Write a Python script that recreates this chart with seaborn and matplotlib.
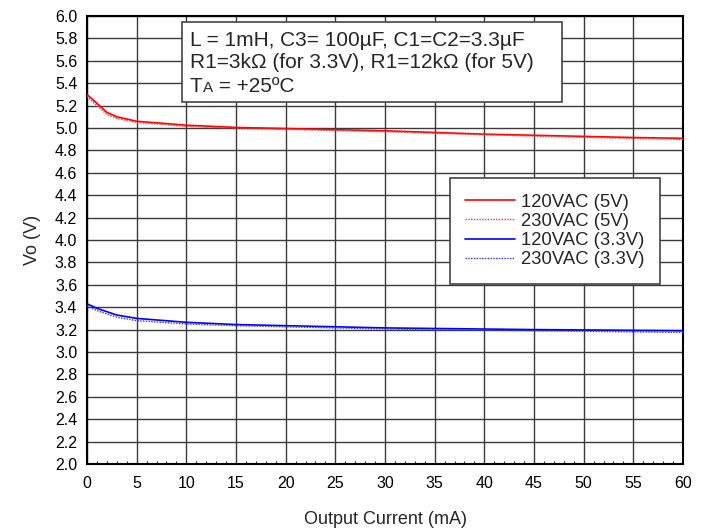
import numpy as np
import pandas as pd
import matplotlib
matplotlib.use("Agg")
import matplotlib.pyplot as plt
import seaborn as sns
from matplotlib.patches import Rectangle
from matplotlib.ticker import MultipleLocator

# ---- data ----
current_ma = [0, 1, 2, 3, 5, 10, 15, 20, 25, 30, 35, 40, 45, 50, 55, 60]
vo_120_5v = [5.30, 5.22, 5.14, 5.10, 5.06, 5.025, 5.005, 4.995, 4.985, 4.975, 4.96, 4.945, 4.935, 4.925, 4.915, 4.908]
vo_230_5v = [5.28, 5.20, 5.12, 5.085, 5.05, 5.015, 4.998, 4.988, 4.978, 4.967, 4.953, 4.94, 4.928, 4.917, 4.907, 4.898]
vo_120_33v = [3.43, 3.39, 3.36, 3.33, 3.30, 3.265, 3.245, 3.235, 3.225, 3.215, 3.21, 3.205, 3.20, 3.197, 3.193, 3.19]
vo_230_33v = [3.41, 3.37, 3.34, 3.31, 3.28, 3.25, 3.235, 3.225, 3.215, 3.205, 3.20, 3.195, 3.19, 3.185, 3.18, 3.175]
series_names = ["120VAC (5V)", "230VAC (5V)", "120VAC (3.3V)", "230VAC (3.3V)"]
x_ticks = list(range(0, 61, 5))
y_ticks = [round(2.0 + 0.2 * i, 1) for i in range(21)]

sns.set_style("white")
plt.rcParams["font.family"] = ["Liberation Sans", "DejaVu Sans"]

fig = plt.figure(figsize=(7.05, 5.29), dpi=100)
ax = fig.add_axes([87 / 705, 1 - 464 / 529, (683 - 87) / 705, (464 - 16) / 529])

styles = [
    (vo_120_5v, "#ff0000", "-", 1.2),
    (vo_230_5v, "#ff3030", (0, (1, 1)), 1.0),
    (vo_120_33v, "#0000ff", "-", 1.2),
    (vo_230_33v, "#3030ff", (0, (1, 1)), 1.0),
]
for name, (vals, col, ls, lw) in zip(series_names, styles):
    df = pd.DataFrame({"I": current_ma, "V": vals})
    sns.lineplot(data=df, x="I", y="V", ax=ax, color=col, linestyle=ls,
                 linewidth=lw, label=name, zorder=3)

ax.set_xlim(0, 60)
ax.set_ylim(2.0, 6.0)
ax.set_xticks(x_ticks)
ax.set_yticks(y_ticks)
ax.set_yticklabels([f"{v:.1f}" for v in y_ticks])
ax.xaxis.set_minor_locator(MultipleLocator(1))
ax.grid(True, which="major", color="#3a3a3a", linewidth=1.0)
ax.set_axisbelow(True)
ax.tick_params(axis="both", which="major", direction="in", length=4, width=1,
               color="black", labelsize=11.5, labelcolor="black")
ax.tick_params(axis="x", which="major", pad=9)
ax.tick_params(axis="y", which="major", pad=7)
ax.tick_params(axis="x", which="minor", direction="in", length=2.5, width=0.8, bottom=True)
for s in ax.spines.values():
    s.set_color("black")
    s.set_linewidth(1.5)

ax.set_xlabel("Output Current (mA)", fontsize=13, labelpad=14)
ax.set_ylabel("Vo (V)", fontsize=13, labelpad=10)

leg = ax.legend(loc="upper right", bbox_to_anchor=((660 - 87) / 596, (464 - 178) / 448),
                fontsize=13.3, frameon=True, fancybox=False, framealpha=1,
                edgecolor="#444444", handlelength=2.7, handletextpad=0.3,
                labelspacing=0.12, borderpad=0.85, borderaxespad=0)
leg.get_frame().set_linewidth(1.2)

# annotation box
bx0, bx1 = (182 - 87) / 596, (562 - 87) / 596
by0, by1 = (464 - 102) / 448, (464 - 22) / 448
ax.add_patch(Rectangle((bx0, by0), bx1 - bx0, by1 - by0, transform=ax.transAxes,
                       facecolor="white", edgecolor="#444444", linewidth=1.2, zorder=5))
tx = (190 - 87) / 596
fs = 15
ax.text(tx, (464 - 40) / 448, "L = 1mH, C3= 100\u00b5F, C1=C2=3.3\u00b5F", transform=ax.transAxes,
        fontsize=fs, va="center", ha="left", zorder=6)
ax.text(tx, (464 - 62) / 448, "R1=3k\u03a9 (for 3.3V), R1=12k\u03a9 (for 5V)", transform=ax.transAxes,
        fontsize=fs, va="center", ha="left", zorder=6)
yl3 = (464 - 92) / 448
t1 = ax.text(tx, yl3, "T", transform=ax.transAxes, fontsize=fs, va="baseline", ha="left", zorder=6)
fig.canvas.draw()
r = fig.canvas.get_renderer()
bb = t1.get_window_extent(r)
x2 = ax.transAxes.inverted().transform((bb.x1, 0))[0]
t2 = ax.text(x2, yl3, "A", transform=ax.transAxes, fontsize=11, va="baseline", ha="left", zorder=6)
fig.canvas.draw()
bb2 = t2.get_window_extent(r)
x3 = ax.transAxes.inverted().transform((bb2.x1, 0))[0]
ax.text(x3, yl3, " = +25\u00baC", transform=ax.transAxes, fontsize=fs, va="baseline", ha="left", zorder=6)

fig.savefig("out.png", dpi=100)
